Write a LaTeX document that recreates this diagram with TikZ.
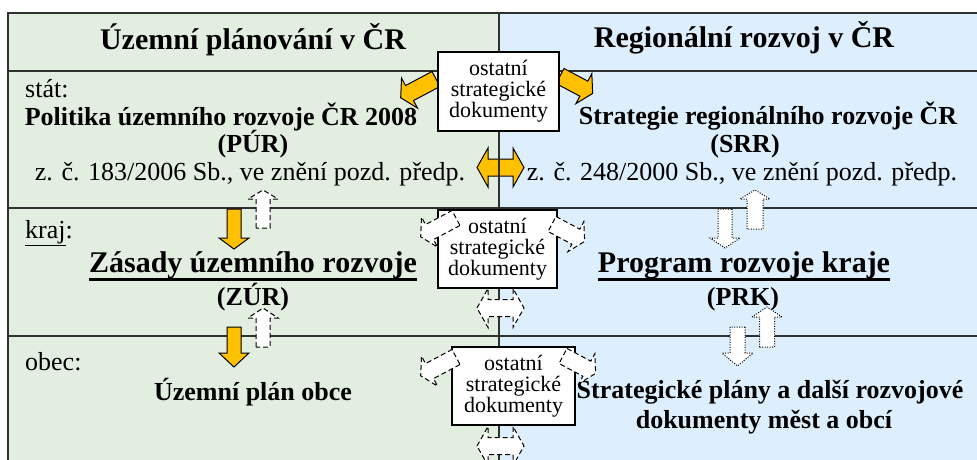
\documentclass[tikz,border=0pt]{standalone}
\usepackage{fontspec}
\setmainfont{Liberation Serif}
\definecolor{plangreen}{HTML}{E2EFE0}
\definecolor{regblue}{HTML}{DDEFFC}
\definecolor{arrorange}{HTML}{FFC000}
\definecolor{framegray}{HTML}{303030}
% style, x, y (tail centre), angle, length, shaft half-width, head half-width, head length
\newcommand{\blockarr}[8]{%
  \begin{scope}[shift={(#2,#3)},rotate=#4]
    \draw[#1] (0,-#6) -- ({#5-#8},-#6) -- ({#5-#8},-#7) -- (#5,0) -- ({#5-#8},#7) -- ({#5-#8},#6) -- (0,#6) -- cycle;
  \end{scope}}
% style, cx, cy, half length, shaft half-width, head half-width, head length
\newcommand{\dblarr}[7]{%
  \begin{scope}[shift={(#2,#3)}]
    \draw[#1] (-#4,0) -- ({-#4+#7},-#6) -- ({-#4+#7},-#5) -- ({#4-#7},-#5) -- ({#4-#7},-#6) -- (#4,0) -- ({#4-#7},#6) -- ({#4-#7},#5) -- ({-#4+#7},#5) -- ({-#4+#7},#6) -- cycle;
  \end{scope}}
\tikzset{
  frameline/.style={draw=framegray, line width=1.5pt},
  reg/.style={inner sep=0pt, anchor=base, font=\fontsize{26}{29}\selectfont},
  bld/.style={inner sep=0pt, anchor=base, font=\fontsize{26}{29}\selectfont\bfseries},
  hdr/.style={inner sep=0pt, anchor=base, font=\fontsize{30}{34}\selectfont\bfseries},
  big/.style={inner sep=0pt, anchor=base, font=\fontsize{30}{34}\selectfont\bfseries},
  docbox/.style={draw=black, fill=white, line width=1.2pt, inner sep=0pt, align=center,
    font=\fontsize{22}{21}\selectfont},
  orangearr/.style={draw=black, fill=arrorange, line width=1pt, line join=miter},
  dasharr/.style={draw=black, fill=white, line width=1pt, dash pattern=on 5pt off 3pt},
  dotarr/.style={draw=black, fill=white, line width=1pt, dash pattern=on 1pt off 1.5pt},
}
\begin{document}
\begin{tikzpicture}[x=1pt,y=-1pt]
\useasboundingbox (0,0) rectangle (977,460);
\clip (0,0) rectangle (977,460);
% backgrounds
\fill[plangreen] (8,13) rectangle (499,470);
\fill[regblue] (499,13) rectangle (985,470);
% orange double arrow (below the divider line)
\dblarr{orangearr}{500.5}{167.5}{23.5}{8.5}{19.5}{11}
% frame lines
\draw[frameline] (985,13) -- (8,13) -- (8,470);
\draw[frameline] (8,71) -- (985,71);
\draw[frameline] (8,208) -- (985,208);
\draw[frameline] (8,336) -- (985,336);
\draw[frameline] (499,13) -- (499,470);
% texts
\node[hdr] (hl) at (253,49) {Územní plánování v ČR};
\node[hdr] (hr) at (744,48) {Regionální rozvoj v ČR};
\node[reg, anchor=base west] (stat) at (25,97) {stát:};
\node[bld] (pur) at (221,125) {Politika územního rozvoje ČR 2008};
\node[bld] (purab) at (253,152) {(PÚR)};
\node[reg] (purlaw) at (250,180) {z. č. 183/2006 Sb., ve znění pozd. předp.};
\node[bld] (srr) at (768,124) {Strategie regionálního rozvoje ČR};
\node[bld] (srrab) at (745,152) {(SRR)};
\node[reg] (srrlaw) at (742,180) {z. č. 248/2000 Sb., ve znění pozd. předp.};
\node[reg, anchor=base west] (kraj) at (25,238) {\underline{kraj}:};
\node[big] (zur) at (253,272) {Zásady územního rozvoje};
\draw[line width=3pt] ([yshift=-7.5pt]zur.base west) -- ([yshift=-7.5pt]zur.base east);
\node[bld] (zurab) at (253,305) {(ZÚR)};
\node[big] (prk) at (744,272) {Program rozvoje kraje};
\draw[line width=3pt] ([yshift=-7.5pt]prk.base west) -- ([yshift=-7.5pt]prk.base east);
\node[bld] (prkab) at (743,305) {(PRK)};
\node[reg, anchor=base west] (obec) at (25,370) {obec:};
\node[bld] (upo) at (253,400) {Územní plán obce};
\node[bld] (spd1) at (770,398) {Strategické plány a další rozvojové};
\node[bld] (spd2) at (764,428) {dokumenty měst a obcí};
% orange arrows from the top box
\blockarr{orangearr}{436}{79}{-152}{40}{8.5}{17}{10}
\blockarr{orangearr}{560}{76}{-28}{37}{8.5}{17}{10}
% vertical arrows, left column
\blockarr{orangearr}{234}{209}{-90}{40}{7}{15}{11}
\blockarr{orangearr}{234}{327}{-90}{40}{7}{15}{14}
\blockarr{dasharr}{263}{228}{90}{38}{7}{15}{9}
\blockarr{dasharr}{263}{347}{90}{39}{7}{15}{10}
% vertical arrows, right column
\blockarr{dotarr}{725}{209}{-90}{39}{7}{15}{10}
\blockarr{dotarr}{755}{229}{90}{39}{8}{15}{9}
\blockarr{dotarr}{737.5}{327}{-90}{39}{7.5}{15.5}{13}
\blockarr{dotarr}{767}{347}{90}{40}{7.5}{15}{10}
% boxes
\node[docbox, minimum width=121pt, minimum height=79pt] (box1) at (498.5,91.5) {ostatní\\strategické\\dokumenty};
\node[docbox, minimum width=119pt, minimum height=78pt] (box2) at (497.5,249) {ostatní\\strategické\\dokumenty};
\node[docbox, minimum width=123pt, minimum height=78pt] (box3) at (513.5,386) {ostatní\\strategické\\dokumenty};
% dashed arrows round the lower boxes
\blockarr{dasharr}{456}{218}{-152}{40}{8.5}{17}{10}
\blockarr{dasharr}{552}{224}{-28}{37}{8.5}{17}{10}
\blockarr{dasharr}{456}{357}{-152}{40}{8.5}{17}{10}
\blockarr{dasharr}{563}{356}{-28}{37}{8.5}{17}{10}
\dblarr{dasharr}{500.5}{308}{23.5}{8.5}{19.5}{11}
\dblarr{dasharr}{500.5}{446}{23.5}{8.5}{19.5}{11}
\end{tikzpicture}
\end{document}
